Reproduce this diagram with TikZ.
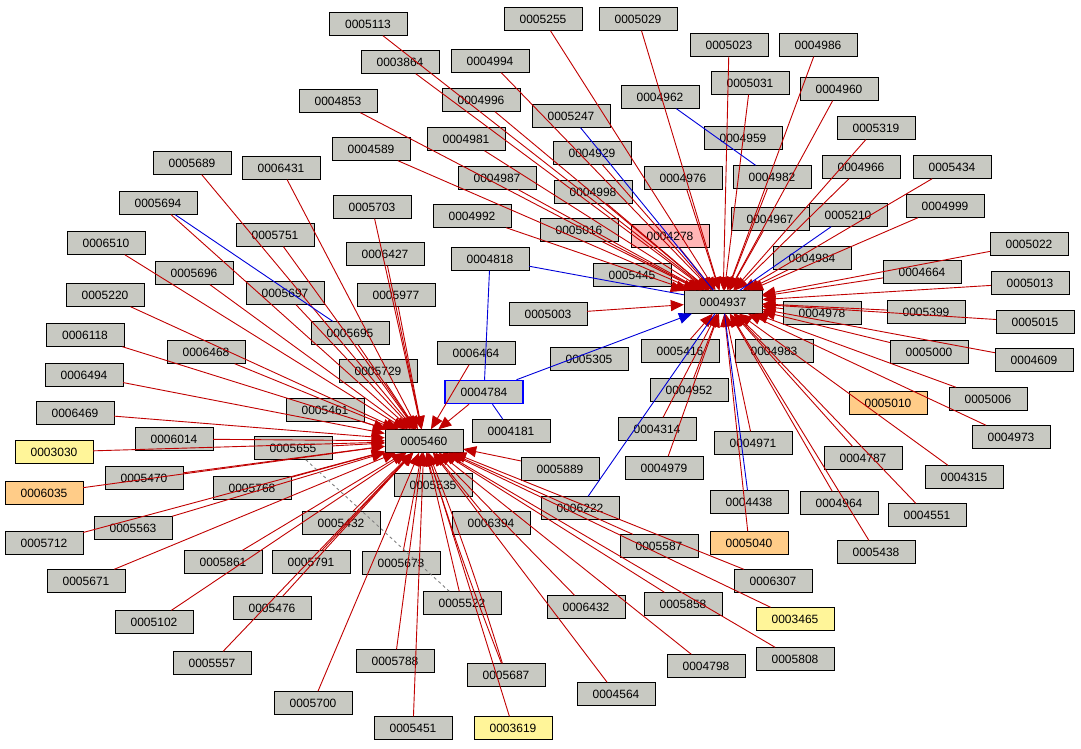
\documentclass[tikz,border=0pt]{standalone}
\usepackage{fontspec}
\setmainfont{Liberation Sans}
\usetikzlibrary{arrows.meta}
\definecolor{boxgray}{HTML}{C8C9C2}
\definecolor{edgered}{HTML}{C00000}
\definecolor{boxpink}{HTML}{FFB6B6}
\definecolor{boxorange}{HTML}{FFCC88}
\definecolor{boxyellow}{HTML}{FFF599}
\tikzset{
  idbox/.style={rectangle,draw=black,fill=boxgray,minimum width=78pt,minimum height=23pt,inner sep=1pt,font=\fontsize{12}{14}\selectfont},
  redge/.style={draw=edgered,line width=0.9pt,-{Triangle[length=13pt,width=11pt]}},
  bedge/.style={draw=blue!85!black,line width=0.9pt},
}
\begin{document}
\begin{tikzpicture}[x=1pt,y=-1pt]
\useasboundingbox (0,0) rectangle (1081,749);
\begin{scope}[every node/.style={idbox}]
    \node (n5113) at (368,24) {0005113};
    \node (n5255) at (543,19) {0005255};
    \node (n5029) at (638,19) {0005029};
    \node (n5023) at (729,45) {0005023};
    \node (n4986) at (818,45) {0004986};
    \node (n3864) at (400,62) {0003864};
    \node (n4994) at (490,61) {0004994};
    \node (n5031) at (750,83) {0005031};
    \node (n4962) at (660,97) {0004962};
    \node (n4960) at (839,89) {0004960};
    \node (n4853) at (338,101) {0004853};
    \node (n4996) at (481,100) {0004996};
    \node (n5247) at (571,116) {0005247};
    \node (n4959) at (743,138) {0004959};
    \node (n5319) at (876,128) {0005319};
    \node (n4589) at (371,149) {0004589};
    \node (n4981) at (466,139) {0004981};
    \node (n4929) at (592,153) {0004929};
    \node (n5689) at (192,163) {0005689};
    \node (n6431) at (281,168) {0006431};
    \node (n4987) at (497,178) {0004987};
    \node (n4976) at (683,178) {0004976};
    \node (n4982) at (772,177) {0004982};
    \node (n4966) at (861,167) {0004966};
    \node (n5434) at (952,167) {0005434};
    \node (n4998) at (593,192) {0004998};
    \node (n5694) at (158,203) {0005694};
    \node (n5703) at (372,207) {0005703};
    \node (n4992) at (472,216) {0004992};
    \node (n4967) at (770,219) {0004967};
    \node (n5210) at (848,215) {0005210};
    \node (n4999) at (945,206) {0004999};
    \node (n5016) at (579,230) {0005016};
    \node (n4278)[fill=boxpink] at (670,236) {0004278};
    \node (n5751) at (275,235) {0005751};
    \node (n6510) at (106,243) {0006510};
    \node (n6427) at (385,254) {0006427};
    \node (n4818) at (490,259) {0004818};
    \node (n5022) at (1029,244) {0005022};
    \node (n4984) at (812,258) {0004984};
    \node (n5696) at (194,273) {0005696};
    \node (n5445) at (632,275) {0005445};
    \node (n4664) at (922,272) {0004664};
    \node (n5013) at (1030,283) {0005013};
    \node (n5220) at (105,295) {0005220};
    \node (n5697) at (285,293) {0005697};
    \node (n5977) at (396,295) {0005977};
    \node (n4937) at (723,302) {0004937};
    \node (n5003) at (548,314) {0005003};
    \node (n4978) at (822,313) {0004978};
    \node (n5399) at (926,312) {0005399};
    \node (n5015) at (1035,322) {0005015};
    \node (n6118) at (85,335) {0006118};
    \node (n5695) at (350,333) {0005695};
    \node (n6468) at (206,352) {0006468};
    \node (n6464) at (476,353) {0006464};
    \node (n5305) at (589,359) {0005305};
    \node (n5416) at (680,351) {0005416};
    \node (n4983) at (774,351) {0004983};
    \node (n5000) at (929,352) {0005000};
    \node (n4609) at (1034,360) {0004609};
    \node (n6494) at (84,375) {0006494};
    \node (n5729) at (378,371) {0005729};
    \node (n4784)[draw=blue,line width=1.5pt] at (484,392) {0004784};
    \node (n4952) at (689,390) {0004952};
    \node (n5010)[fill=boxorange] at (888,403) {0005010};
    \node (n5006) at (988,399) {0005006};
    \node (n6469) at (75,413) {0006469};
    \node (n5461) at (325,410) {0005461};
    \node (n4181) at (511,431) {0004181};
    \node (n4314) at (657,429) {0004314};
    \node (n4971) at (753,443) {0004971};
    \node (n4973) at (1011,437) {0004973};
    \node (n3030)[fill=boxyellow] at (54,452) {0003030};
    \node (n6014) at (174,439) {0006014};
    \node (n5655) at (293,448) {0005655};
    \node (n5460) at (424,441) {0005460};
    \node (n4787) at (863,458) {0004787};
    \node (n5889) at (560,469) {0005889};
    \node (n4979) at (664,468) {0004979};
    \node (n4315) at (964,477) {0004315};
    \node (n5470) at (144,478) {0005470};
    \node (n6035)[fill=boxorange] at (44,493) {0006035};
    \node (n5768) at (252,488) {0005768};
    \node (n5535) at (433,485) {0005535};
    \node (n4438) at (749,502) {0004438};
    \node (n4964) at (839,503) {0004964};
    \node (n6222) at (580,508) {0006222};
    \node (n4551) at (927,515) {0004551};
    \node (n5563) at (133,528) {0005563};
    \node (n5432) at (341,523) {0005432};
    \node (n6394) at (491,523) {0006394};
    \node (n5712) at (44,543) {0005712};
    \node (n5587) at (659,546) {0005587};
    \node (n5040)[fill=boxorange] at (749,543) {0005040};
    \node (n5438) at (876,552) {0005438};
    \node (n5861) at (223,562) {0005861};
    \node (n5791) at (311,562) {0005791};
    \node (n5673) at (401,563) {0005673};
    \node (n5671) at (86,581) {0005671};
    \node (n6307) at (773,581) {0006307};
    \node (n5522) at (462,603) {0005522};
    \node (n6432) at (586,607) {0006432};
    \node (n5858) at (683,604) {0005858};
    \node (n5476) at (272,608) {0005476};
    \node (n3465)[fill=boxyellow] at (795,619) {0003465};
    \node (n5102) at (154,622) {0005102};
    \node (n5808) at (795,659) {0005808};
    \node (n5557) at (212,663) {0005557};
    \node (n5788) at (395,661) {0005788};
    \node (n4798) at (706,666) {0004798};
    \node (n5687) at (506,675) {0005687};
    \node (n4564) at (616,694) {0004564};
    \node (n5700) at (313,703) {0005700};
    \node (n5451) at (413,728) {0005451};
    \node (n3619)[fill=boxyellow] at (513,728) {0003619};
\end{scope}

\begin{scope}[every edge/.style={redge}]
    % into 0004937
    \path (n5113) edge (n4937) (n5255) edge (n4937) (n5029) edge (n4937)
          (n5023) edge (n4937) (n4986) edge (n4937) (n3864) edge (n4937)
          (n4994) edge (n4937) (n5031) edge (n4937) (n4960) edge (n4937)
          (n4853) edge (n4937) (n4996) edge (n4937) (n5319) edge (n4937)
          (n4589) edge (n4937) (n4981) edge (n4937) (n4929) edge (n4937)
          (n4987) edge (n4937) (n4976) edge (n4937) (n4982) edge (n4937)
          (n4966) edge (n4937) (n5434) edge (n4937) (n4998) edge (n4937)
          (n4992) edge (n4937) (n4967) edge (n4937) (n4999) edge (n4937)
          (n5016) edge (n4937) (n4278) edge (n4937) (n5022) edge (n4937)
          (n4984) edge (n4937) (n5445) edge (n4937) (n4664) edge (n4937)
          (n5013) edge (n4937) (n5003) edge (n4937) (n4978) edge (n4937)
          (n5399) edge (n4937) (n5015) edge (n4937) (n5416) edge (n4937)
          (n4983) edge (n4937) (n5000) edge (n4937) (n4609) edge (n4937)
          (n4952) edge (n4937) (n5006) edge (n4937) (n4971) edge (n4937)
          (n4973) edge (n4937) (n4314) edge (n4937) (n4979) edge (n4937)
          (n4787) edge (n4937) (n4315) edge (n4937) (n4551) edge (n4937)
          (n5438) edge (n4937) (n4964) edge (n4937) (n5040) edge (n4937);
    % into 0005460
    \path (n5689) edge (n5460) (n6431) edge (n5460) (n5694) edge (n5460)
          (n5703) edge (n5460) (n5751) edge (n5460) (n6510) edge (n5460)
          (n6427) edge (n5460) (n5696) edge (n5460) (n5220) edge (n5460)
          (n5697) edge (n5460) (n5977) edge (n5460) (n6118) edge (n5460)
          (n5695) edge (n5460) (n6468) edge (n5460) (n6464) edge (n5460)
          (n6494) edge (n5460) (n5729) edge (n5460) (n4784) edge (n5460)
          (n6469) edge (n5460) (n5461) edge (n5460) (n3030) edge (n5460)
          (n6014) edge (n5460) (n5655) edge (n5460) (n5470) edge (n5460)
          (n6035) edge (n5460) (n5768) edge (n5460) (n5535) edge (n5460)
          (n5889) edge (n5460) (n5563) edge (n5460) (n5432) edge (n5460)
          (n6394) edge (n5460) (n5712) edge (n5460) (n5587) edge (n5460)
          (n5861) edge (n5460) (n5791) edge (n5460) (n5673) edge (n5460)
          (n5671) edge (n5460) (n6307) edge (n5460) (n5522) edge (n5460)
          (n6432) edge (n5460) (n5858) edge (n5460) (n5476) edge (n5460)
          (n3465) edge (n5460) (n5102) edge (n5460) (n5808) edge (n5460)
          (n5557) edge (n5460) (n5788) edge (n5460) (n4798) edge (n5460)
          (n5687) edge[bend left=2] (n5460) (n5687) edge[bend right=2] (n5460)
          (n4564) edge (n5460)
          (n5700) edge (n5460) (n5451) edge (n5460) (n3619) edge (n5460);
\end{scope}

\begin{scope}[every edge/.style={bedge}]
    \path (n5694) edge (n5695);
    \path (n4818) edge (n4937);
    \path (n4818) edge (n4784);
    \path (n4784) edge (n4181);
    \path (n5247) edge (n4937);
    \path (n4962) edge (n4982);
    \path (n5210) edge (n4937);
    \path (n6222) edge (n4937);
    \path (n4438) edge (n4937);
    \path (n4784) edge[-{Triangle[length=13pt,width=11pt]}] (n4937);
    \path (n5655) edge[draw=gray,dashed] (n5522);
\end{scope}
\end{tikzpicture}
\end{document}
